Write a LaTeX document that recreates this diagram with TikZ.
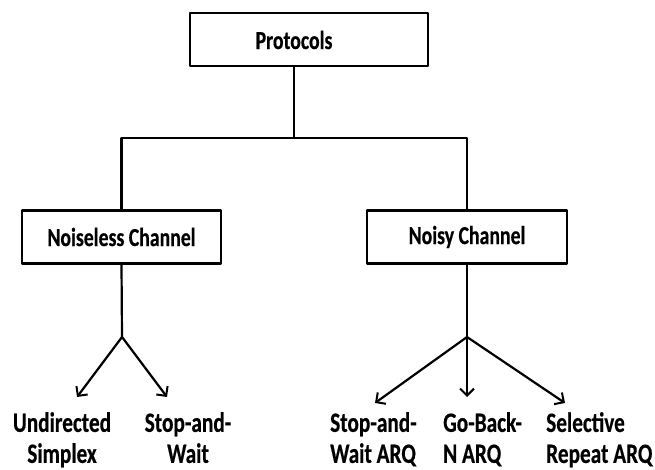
\documentclass[tikz,border=0pt]{standalone}
\usepackage{fontspec}
\setmainfont{Carlito}[FakeStretch=0.76,FakeBold=0.4]
\usetikzlibrary{arrows.meta}

\begin{document}
\begin{tikzpicture}[
  x=1pt, y=-1pt,
  line cap=round, line join=round,
  >={Straight Barb[length=7pt,width=14pt,line width=2pt]},
  box/.style={draw, line width=2.4pt, inner sep=0pt, minimum height=53pt},
  lbl/.style={font=\fontsize{26}{31}\selectfont\bfseries, inner sep=0pt},
  leaf/.style={lbl, font=\fontsize{28}{31}\selectfont\bfseries, anchor=north},
  wire/.style={line width=2.2pt}
]
\useasboundingbox (0,0) rectangle (655,470);

% root
\node[box, minimum width=238pt] (proto) at (309,39.5) {};
\node[lbl] (protolbl) at (294,40) {Protocols};

% channel boxes
\node[box, minimum width=199pt] (noiseless) at (121.5,237) {};
\node[lbl] at (noiseless) {Noiseless Channel};
\node[box, minimum width=200pt] (noisy) at (467,237) {};
\node[lbl] at (noisy) {Noisy Channel};

% split line
\coordinate (bus) at (294,138);
\draw[wire] (protolbl |- proto.south) -- (bus);
\draw[wire] (noiseless.north) |- (bus) -| (noisy.north);

% leaves
\node[leaf, align=center] (simplex) at (62,412) {Undirected\\Simplex};
\node[leaf, align=center] (stopwait) at (188,412) {Stop-and-\\Wait};
\node[leaf, align=left, anchor=north west] (swarq) at (330,412) {Stop-and-\\Wait ARQ};
\node[leaf, align=left, anchor=north west] (gbn) at (443,412) {Go-Back-\\N ARQ};
\node[leaf, align=left, anchor=north west] (sr) at (546,412) {Selective\\Repeat ARQ};

% forks
\coordinate (lfork) at (122,337);
\coordinate (rfork) at (467,337);
\coordinate (t1) at (77,397);
\coordinate (t2) at (167,397);
\coordinate (t3) at (375,403);
\coordinate (t4) at (467,397);
\coordinate (t5) at (565,403);
\draw[wire] (noiseless.south) -- (lfork);
\draw[wire] (noisy.south) -- (rfork);
\foreach \t in {t1,t2} \draw[wire,->] (lfork) -- (\t);
\foreach \t in {t3,t4,t5} \draw[wire,->] (rfork) -- (\t);
\end{tikzpicture}
\end{document}
